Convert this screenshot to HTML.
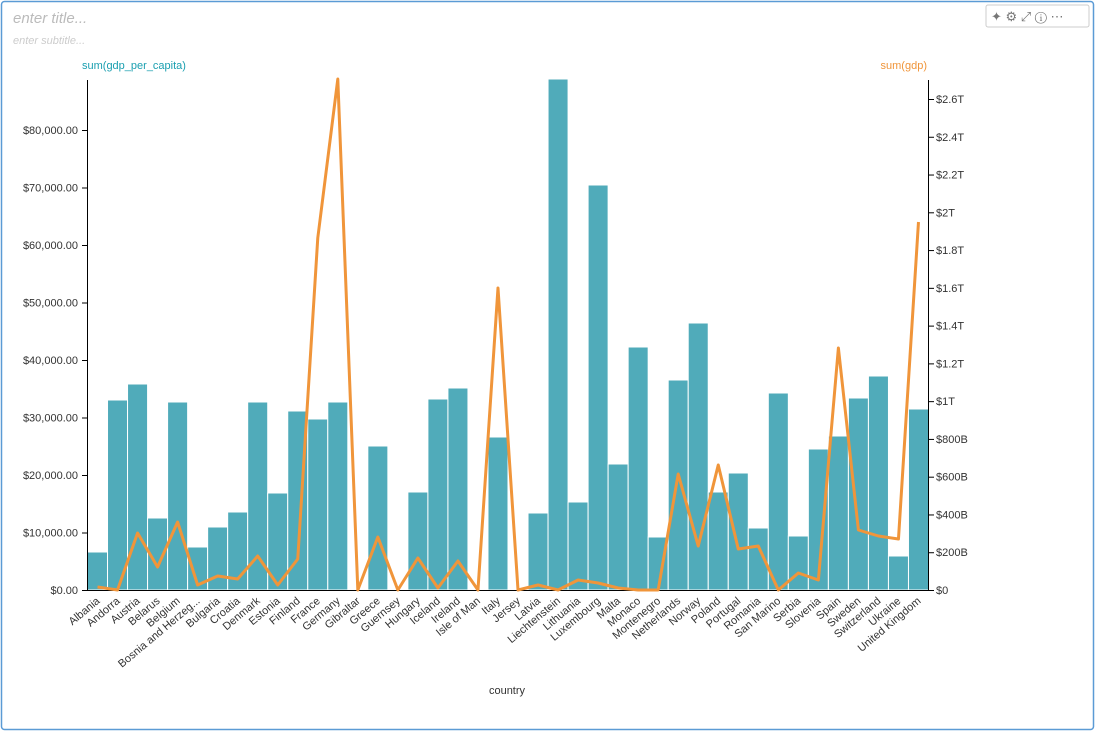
<!DOCTYPE html>
<html><head><meta charset="utf-8"><style>
body{margin:0;background:#fff;font-family:"Liberation Sans",sans-serif;}
</style></head><body>
<svg width="1096" height="732" xmlns="http://www.w3.org/2000/svg" font-family="Liberation Sans, sans-serif">
<rect x="1.5" y="1.5" width="1092" height="728" fill="#fff" stroke="#5b9bd5" stroke-width="1.5" rx="3"/>
<text x="13" y="23" font-size="15" font-style="italic" fill="#bbb">enter title...</text>
<text x="13" y="44" font-size="11" font-style="italic" fill="#ccc">enter subtitle...</text>
<rect x="986" y="5" width="103" height="22" fill="#fff" stroke="#ccc" rx="2"/>
<text x="991" y="21" font-size="13" fill="#777">✦ ⚙ ⤢ ⓘ ⋯</text>
<text x="82" y="69" font-size="11" fill="#1a9fb0">sum(gdp_per_capita)</text>
<text x="927" y="69" font-size="11" fill="#f0953a" text-anchor="end">sum(gdp)</text>
<g id="bars" fill="#50abba" stroke="#fff" stroke-width="1"></g>
<g stroke="#000" stroke-width="1" fill="none">
<line x1="87.5" y1="80" x2="87.5" y2="590.5"/>
<line x1="928.5" y1="80" x2="928.5" y2="590.5"/>
<line x1="87" y1="590.5" x2="929" y2="590.5"/>
</g>
<g id="ly" font-size="11" fill="#333" text-anchor="end"></g>
<g id="ry" font-size="11" fill="#333"></g>
<g id="xl" font-size="11" fill="#333" text-anchor="end"></g>
<polyline id="line" fill="none" stroke="#f0953a" stroke-width="3" stroke-linejoin="round"/>
<text x="507" y="694" font-size="11" fill="#333" text-anchor="middle">country</text>
</svg>
<script>
const c=["Albania","Andorra","Austria","Belarus","Belgium","Bosnia and Herzeg...","Bulgaria","Croatia","Denmark","Estonia","Finland","France","Germany","Gibraltar","Greece","Guernsey","Hungary","Iceland","Ireland","Isle of Man","Italy","Jersey","Latvia","Liechtenstein","Lithuania","Luxembourg","Malta","Monaco","Montenegro","Netherlands","Norway","Poland","Portugal","Romania","San Marino","Serbia","Slovenia","Spain","Sweden","Switzerland","Ukraine","United Kingdom"];
const b=[552,400,384,518,402,547,527,512,402,493,411,419,402,590,446,590,492,399,388,590,437,590,513,79,502,185,464,347,537,380,323,492,473,528,393,536,449,436,398,376,556,409];
const l=[587,590,533,567,522,585,576,579,556,585,559,238,79,590,537,590,558,588,561,590,288,590,585,590,580,583,588,590,590,474,546,465,549,546,590,573,580,348,530,536,539,222];
const NS="http://www.w3.org/2000/svg";
function el(t,a,p,txt){const e=document.createElementNS(NS,t);for(const k in a)e.setAttribute(k,a[k]);if(txt!=null)e.textContent=txt;document.getElementById(p).appendChild(e);return e;}
const w=841/42;let pts=[];
c.forEach((n,i)=>{const x=87.5+i*w;
 if(b[i]<590)el("rect",{x:x,y:b[i],width:w,height:590-b[i]},"bars");
 const cx=x+w/2;pts.push(cx+","+l[i]);
 el("text",{x:cx+3,y:602,transform:`rotate(-40 ${cx+3} 602)`},"xl",n);
 const s=document.createElementNS(NS,"line");});
document.getElementById("line").setAttribute("points",pts.join(" "));
for(let v=0;v<=80000;v+=10000){const y=590-v*57.5/10000;
 el("text",{x:78,y:y+4},"ly","$"+v.toLocaleString("en-US")+".00");
 el("line",{x1:82,x2:87,y1:y+.5,y2:y+.5,stroke:"#000"},"ly");}
const rl=["$0","$200B","$400B","$600B","$800B","$1T","$1.2T","$1.4T","$1.6T","$1.8T","$2T","$2.2T","$2.4T","$2.6T"];
rl.forEach((t,i)=>{const y=590-i*37.77;el("text",{x:936,y:y+4},"ry",t);el("line",{x1:929,x2:934,y1:y+.5,y2:y+.5,stroke:"#000"},"ry");});
</script>
</body></html>
